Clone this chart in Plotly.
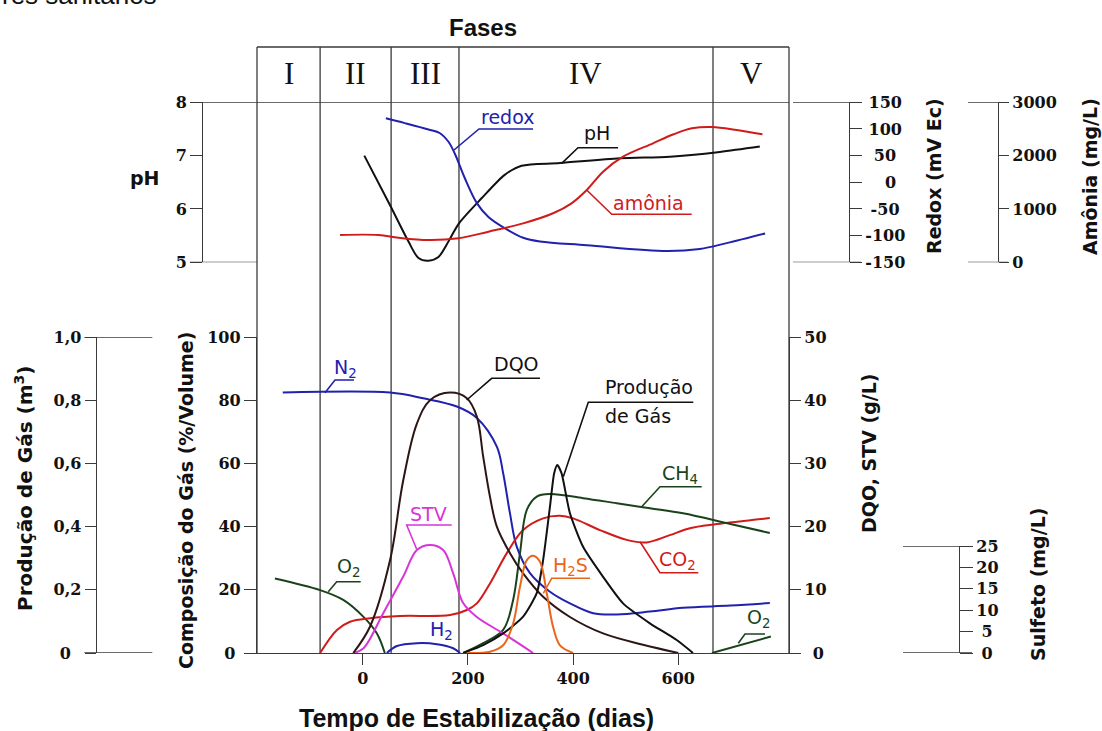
import plotly.graph_objects as go

W, H = 1102, 731
def fx(p): return p / W
def fy(p): return 1 - p / H

# ---------------- data ----------------
phase_names = ["I", "II", "III", "IV", "V"]
phase_bounds = [-81, 54, 183, 666]          # days
x_ticks = [0, 200, 400, 600]

# upper panel
ph_days = [3, 52, 87, 106, 125, 144, 163, 183, 226, 270, 302, 375, 489, 584, 679, 755]
ph_vals = [7.0, 6.07, 5.39, 5.08, 5.03, 5.1, 5.39, 5.73, 6.2, 6.64, 6.81, 6.86, 6.95, 6.98, 7.07, 7.17]

redox_days = [44, 80, 125, 147, 163, 175, 194, 217, 239, 270, 305, 337, 426, 578, 641, 692, 765]
redox_vals = [120, 111, 99, 92, 76, 54, 8, -39, -65, -86, -104, -111, -118, -129, -125, -114, -96]

amonia_days = [-43, 30, 68, 125, 182, 239, 305, 362, 397, 426, 457, 495, 552, 591, 626, 664, 711, 760]
amonia_vals = [512, 512, 461, 418, 450, 574, 730, 919, 1106, 1356, 1699, 1980, 2231, 2400, 2512, 2537, 2481, 2400]

# lower panel - gas composition (%)
n2_days = [-152, 52, 115, 179, 217, 255, 267, 280, 293, 318, 356, 394, 438, 483, 546, 609, 699, 774]
n2_vals = [82.4, 82.4, 80.6, 78, 74.4, 65.3, 56.9, 44.2, 33.6, 25.3, 19.4, 15.7, 12.6, 12.2, 13.1, 14.3, 15, 15.8]

co2_days = [-81, -49, -24, 14, 71, 166, 198, 217, 242, 274, 305, 343, 375, 400, 451, 502, 540, 584, 622, 673, 774]
co2_vals = [0, 7.3, 9.9, 11, 11.7, 12, 13.6, 15.7, 22, 31.6, 38.9, 42.6, 43.4, 42.6, 38.9, 35.8, 35, 37.3, 39.5, 40.8, 42.7]

ch4_days = [191, 229, 267, 286, 299, 312, 331, 356, 419, 483, 546, 609, 699, 774]
ch4_vals = [0, 3.1, 7.3, 16.8, 31.6, 45.3, 49.5, 50.3, 49, 47.4, 45.8, 44.2, 40.8, 38]

h2_days = [46, 65, 103, 141, 172, 185]
h2_vals = [0, 2.2, 3.1, 2.8, 1.5, 0]

o2a_days = [-167, -81, -37, 1, 27, 42]
o2a_vals = [23.6, 19.9, 16.8, 11.5, 6.2, 0]
o2b_days = [664, 776]
o2b_vals = [0, 5.2]

# DQO / STV (g/L)
dqo_days = [-18, 14, 52, 77, 103, 128, 166, 198, 217, 229, 242, 255, 280, 305, 343, 394, 457, 533, 600]
dqo_vals = [0, 4.2, 14.7, 27.3, 36.3, 40, 41.2, 40.3, 37.4, 31.1, 24.7, 20, 15.8, 12.6, 8.9, 5.7, 3.1, 1.3, 0]

stv_days = [-18, 1, 39, 77, 103, 128, 153, 172, 191, 217, 267, 324]
stv_vals = [0, 0.7, 6.3, 12.1, 16.3, 17.1, 16.3, 12.6, 7.9, 5.7, 3.1, 0]

# gas production (m3)
prod_days = [191, 229, 267, 305, 331, 343, 356, 364, 370, 378, 394, 419, 457, 495, 546, 597, 628]
prod_vals = [0, 0.025, 0.062, 0.115, 0.19, 0.294, 0.463, 0.569, 0.595, 0.569, 0.442, 0.336, 0.241, 0.157, 0.094, 0.041, 0]

# sulfide (mg/L)
h2s_days = [198, 242, 267, 286, 299, 312, 324, 337, 350, 362, 375, 400]
h2s_vals = [0, 0.3, 1.8, 6.9, 15.5, 21.7, 22.7, 21.3, 13.9, 6.1, 1.8, 0]

# tick labels
prod_ticks = [0, 0.2, 0.4, 0.6, 0.8, 1.0]
prod_text = ["0\u2004\u2004", "0,2", "0,4", "0,6", "0,8", "1,0"]
comp_ticks = [0, 20, 40, 60, 80, 100]
comp_text = ["0\u2004", "20", "40", "60", "80", "100"]
dqo_ticks = [0, 10, 20, 30, 40, 50]
dqo_text = ["\u2004\u20090", "10", "20", "30", "40", "50"]
sulf_ticks = [0, 5, 10, 15, 20, 25]
sulf_text = ["\u20040", "\u20045", "10", "15", "20", "25"]
ph_ticks = [5, 6, 7, 8]
redox_ticks = [-150, -100, -50, 0, 50, 100, 150]
redox_text = ["-150", "-100", "\u2004-50", "\u2007\u2004\u20090", "\u2004\u200950", "\u2009100", "\u2009150"]
amonia_ticks = [0, 1000, 2000, 3000]

# ---------------- styling ----------------
AX = "#3a3a3a"
BLUE = "#2121ad"
RED = "#d01b1b"
GREEN = "#1b431b"
BLACK = "#111111"
BROWN = "#2e1515"
MAGENTA = "#d835d8"
ORANGE = "#e9661d"
TICKFONT = dict(family="DejaVu Serif", size=16, color="#111111", weight="bold")

fig = go.Figure()

def add(x, y, color, yaxis="y", smooth=1.0, width=2):
    fig.add_trace(go.Scatter(x=x, y=y, mode="lines", yaxis=yaxis,
                             line=dict(color=color, width=width, shape="spline", smoothing=smooth),
                             hoverinfo="skip", showlegend=False))

add(amonia_days, amonia_vals, RED, "y7")
add(redox_days, redox_vals, BLUE, "y6")
add(ph_days, ph_vals, BLACK, "y5", smooth=0.8)

add(o2a_days, o2a_vals, GREEN, "y")
add(o2b_days, o2b_vals, GREEN, "y")
add(n2_days, n2_vals, BLUE, "y")
add(h2_days, h2_vals, BLUE, "y")
add(co2_days, co2_vals, RED, "y")
add(ch4_days, ch4_vals, GREEN, "y")
add(stv_days, stv_vals, MAGENTA, "y2")
add(dqo_days, dqo_vals, BROWN, "y2")
add(h2s_days, h2s_vals, ORANGE, "y4")
add(prod_days, prod_vals, BLACK, "y3", smooth=0.6)

common = dict(showgrid=False, zeroline=False, ticks="outside", linecolor=AX, tickcolor=AX,
              linewidth=1.3, tickwidth=1.3, tickfont=TICKFONT, showline=True, fixedrange=True)

bot_dom = [fy(653), fy(337)]
top_dom = [fy(262.3), fy(102.3)]
sul_dom = [fy(653), fy(546)]

shapes = []
annotations = []

def hline(y, x0, x1, yref):
    shapes.append(dict(type="line", xref="paper", yref=yref, x0=fx(x0), x1=fx(x1), y0=y, y1=y,
                       line=dict(color=AX, width=1.3), layer="below"))

def pline(x0, y0, x1, y1):
    shapes.append(dict(type="line", xref="paper", yref="paper", x0=fx(x0), x1=fx(x1), y0=fy(y0), y1=fy(y1),
                       line=dict(color=AX, width=1.3), layer="below"))

# frame of the phase box
pline(257, 47, 257, 653)
pline(789, 47, 789, 653)
pline(257, 47, 789, 47)
hline(8, 190, 789, "y5")
hline(5, 190, 257, "y5")
for b in phase_bounds:
    shapes.append(dict(type="line", xref="x", yref="paper", x0=b, x1=b, y0=fy(653), y1=fy(47),
                       line=dict(color=AX, width=1.3), layer="below"))
# axis brackets
hline(1.0, 84.3, 152.3, "y3")
hline(0.0, 84.3, 152.3, "y3")
hline(25, 903, 972, "y4")
hline(0, 903, 972, "y4")
hline(150, 793, 861, "y6")
hline(-150, 793, 861, "y6")
hline(3000, 968, 1008, "y7")
hline(0, 968, 1008, "y7")

# phase names
edges = [-201] + phase_bounds + [810.5]
for i, name in enumerate(phase_names):
    annotations.append(dict(text=name, x=(edges[i] + edges[i + 1]) / 2, y=fy(74), xref="x", yref="paper",
                            showarrow=False, xanchor="center", yanchor="middle",
                            font=dict(family="Liberation Serif", size=31, color="#111111")))

def label(text, cx, cy, color, size=19, xanchor="center"):
    annotations.append(dict(text=text, x=fx(cx), y=fy(cy), xref="paper", yref="paper", showarrow=False,
                            xanchor=xanchor, yanchor="middle",
                            font=dict(family="DejaVu Sans", size=size, color=color)))

def leader(pts, color):
    path = "M " + " L ".join(f"{fx(a)},{fy(b)}" for a, b in pts)
    shapes.append(dict(type="path", path=path, xref="paper", yref="paper", line=dict(color=color, width=1.6)))

label("redox", 507, 117, BLUE)
leader([(454, 150), (479, 129), (533, 129)], BLUE)
label("pH", 597, 133, BLACK)
leader([(561.7, 163.3), (578, 147.7), (618, 147.7)], BLACK)
label("amônia", 648, 203, RED)
leader([(586.7, 190), (611.7, 214.3), (691.7, 214.3)], RED)

label("N<sub>2</sub>", 345, 368, BLUE)
leader([(325, 392.7), (335, 380), (354, 380)], BLUE)
label("DQO", 516.7, 364, BLACK)
leader([(466.7, 400), (491.7, 378.3), (540, 378.3)], BLACK)
label("Produção", 603, 387, BLACK, xanchor="left")
label("de Gás", 603, 416, BLACK, xanchor="left")
leader([(563.3, 476.7), (588.3, 402.3), (693.3, 402.3)], BLACK)
label("CH<sub>4</sub>", 680, 474, GREEN)
leader([(641.7, 506.7), (660, 486.7), (701.7, 486.7)], GREEN)
label("STV", 428.3, 514, MAGENTA)
leader([(416.7, 549.3), (406.7, 525), (451.7, 525)], MAGENTA)
label("CO<sub>2</sub>", 677, 560, RED)
leader([(640, 541.7), (660, 572.7), (698.3, 572.7)], RED)
label("O<sub>2</sub>", 348.3, 567, GREEN)
leader([(328.3, 591.7), (336.7, 581.7), (360.7, 581.7)], GREEN)
label("H<sub>2</sub>S", 570, 566, ORANGE)
leader([(543.3, 593.3), (551.7, 578.3), (590, 578.3)], ORANGE)
label("H<sub>2</sub>", 441.7, 630, BLUE)
label("O<sub>2</sub>", 758.3, 618, GREEN)
leader([(738.3, 643.3), (745, 634), (765, 634)], GREEN)

# titles
TF = dict(family="DejaVu Sans", size=19, color="#111111", weight="bold")
def title(text, cx, cy, angle=-90, font=TF):
    annotations.append(dict(text=text, x=fx(cx), y=fy(cy), xref="paper", yref="paper", showarrow=False,
                            xanchor="center", yanchor="middle", textangle=angle, font=font))

title("Produção de Gás (m<sup>3</sup>)", 24, 489, font=dict(TF, size=20))
title("Composição do Gás (%/Volume)", 186, 501)
title("DQO, STV (g/L)", 869, 454)
title("Sulfeto (mg/L)", 1038, 585)
title("Redox (mV Ec)", 934, 176)
title("Amônia (mg/L)", 1090, 177)
title("pH", 145, 178, angle=0)
title("Fases", 483, 27, angle=0, font=dict(family="Liberation Sans", size=24, color="#111111", weight="bold"))
title("Tempo de Estabilização (dias)", 476, 718, angle=0,
      font=dict(family="Liberation Sans", size=25, color="#111111", weight="bold"))
annotations.append(dict(text="res sanitários", x=0, y=1 + 5 / H, xref="paper", yref="paper", showarrow=False,
                        xanchor="left", yanchor="middle",
                        font=dict(family="Liberation Sans", size=26, color="#111111")))

fig.update_layout(
    width=W, height=H, margin=dict(l=0, r=0, t=0, b=0), template="none",
    paper_bgcolor="white", plot_bgcolor="rgba(0,0,0,0)", showlegend=False,
    xaxis=dict(domain=[fx(257), fx(789)], range=[-201, 810.5], anchor="y", tickvals=x_ticks, ticklen=11, **common),
    yaxis=dict(domain=bot_dom, range=[0, 100], anchor="x", tickvals=comp_ticks, ticktext=comp_text, ticklen=12, **common),
    yaxis2=dict(overlaying="y", side="right", anchor="x", range=[0, 50], tickvals=dqo_ticks, ticktext=dqo_text,
                ticklen=11, **common),
    yaxis3=dict(overlaying="y", side="left", anchor="free", position=fx(95.7), range=[0, 1],
                tickvals=prod_ticks, ticktext=prod_text, ticklen=11, **common),
    yaxis4=dict(domain=sul_dom, anchor="free", position=fx(959), side="right", range=[0, 25],
                tickvals=sulf_ticks, ticktext=sulf_text, ticklen=13, **common),
    yaxis5=dict(domain=top_dom, anchor="free", position=fx(202.3), side="left", range=[5, 8],
                tickvals=ph_ticks, ticklen=12, **common),
    yaxis6=dict(overlaying="y5", anchor="free", position=fx(849), side="right", range=[-150, 150],
                tickvals=redox_ticks, ticktext=redox_text, ticklen=12, **common),
    yaxis7=dict(overlaying="y5", anchor="free", position=fx(998), side="right", range=[0, 3000],
                tickvals=amonia_ticks, ticklen=10, **common),
    shapes=shapes, annotations=annotations,
)

fig.write_html("out.html")
